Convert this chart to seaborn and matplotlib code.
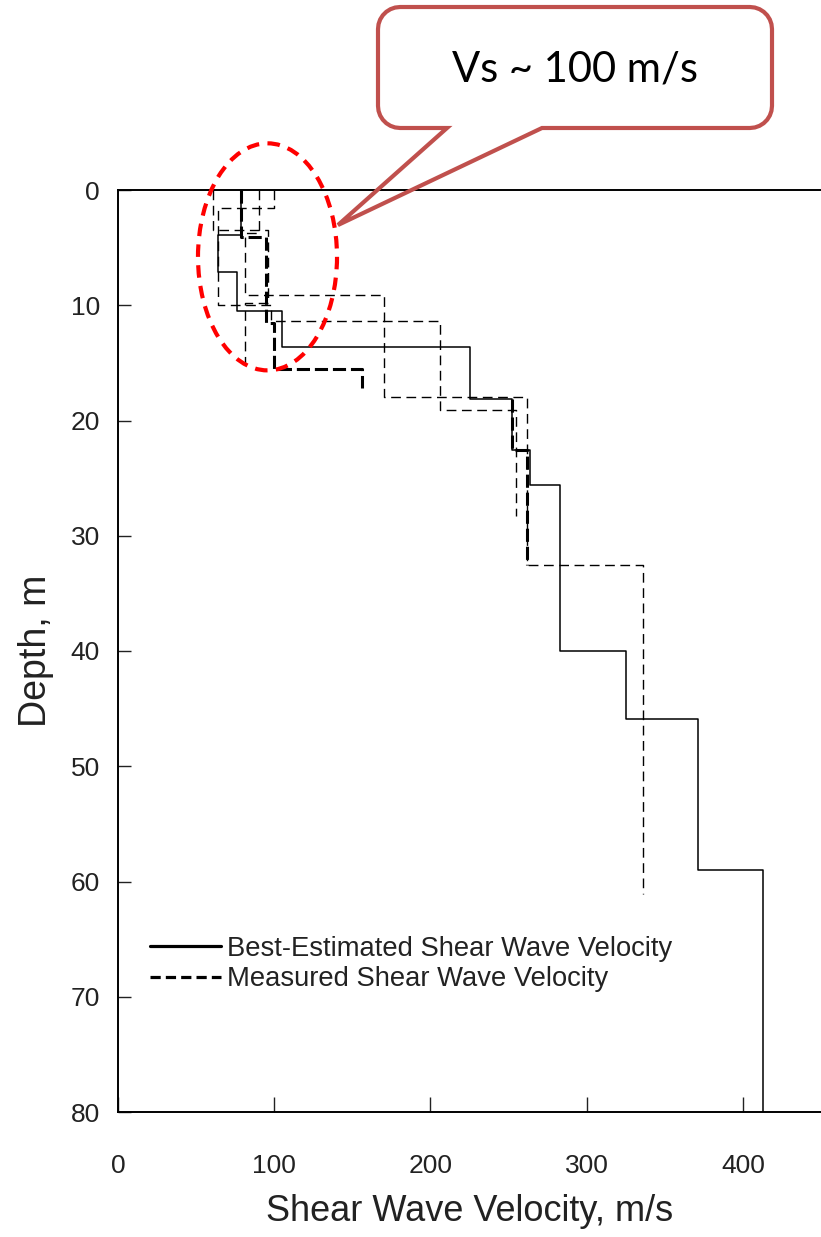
import numpy as np
import pandas as pd
import matplotlib
matplotlib.use("Agg")
import matplotlib.pyplot as plt
import seaborn as sns
from matplotlib.lines import Line2D
from matplotlib.patches import Ellipse, PathPatch
from matplotlib.path import Path

# ---- data: layer boundaries (m) and layer shear-wave velocities (m/s) ----
best_depth = [0, 3.9, 7.1, 10.5, 13.6, 18.1, 22.6, 25.6, 40.0, 45.9, 59.0, 80.0]
best_vs = [79, 64, 76, 105, 225, 252, 264, 283, 325, 371, 413]

m1_depth = [0, 3.75, 9.1, 18.0, 32.5, 61.1]
m1_vs = [90.5, 81, 170.5, 262, 336]
m2_depth = [0, 1.6, 10.0, 11.4, 19.1, 28.3]
m2_vs = [100, 64, 98, 206, 255]
m3_depth = [0, 4.05, 11.5, 15.55, 17.2]
m3_vs = [79, 95, 100, 156]
m4_depth = [0, 3.5, 9.8, 15.1]
m4_vs = [60.6, 96, 81]
m5_depth = [18.1, 22.6, 32.5]
m5_vs = [252, 262]

x_ticks = [0, 100, 200, 300, 400]
y_ticks = [0, 10, 20, 30, 40, 50, 60, 70, 80]
legend_labels = ["Best-Estimated Shear Wave Velocity", "Measured Shear Wave Velocity"]
callout_text = "Vs ~ 100 m/s"


def step_profile(depths, vs, name):
    """Turn layer boundaries + velocities into a stair-step polyline."""
    xs, ys = [], []
    for i, v in enumerate(vs):
        xs += [v, v]
        ys += [depths[i], depths[i + 1]]
    return pd.DataFrame({"velocity": xs, "depth": ys, "profile": name})


W, H = 821, 1237
sns.set_style("ticks")
plt.rcParams["font.family"] = ["Liberation Sans", "DejaVu Sans"]
TXT = "#222222"

fig = plt.figure(figsize=(W / 100, H / 100), dpi=100)
ax = fig.add_axes([118 / W, 1 - 1112 / H, 1 - 118 / W, (1112 - 190) / H])

thin_dash = (0, (7, 4))
thick_dash = (0, (4.3, 1.6))

measured = [
    (m1_depth, m1_vs, 1.0, thin_dash),
    (m2_depth, m2_vs, 1.0, thin_dash),
    (m3_depth, m3_vs, 2.2, thick_dash),
    (m4_depth, m4_vs, 1.0, thin_dash),
    (m5_depth, m5_vs, 2.2, thick_dash),
]
for i, (d, v, lw, ls) in enumerate(measured):
    df = step_profile(d, v, f"m{i + 1}")
    sns.lineplot(data=df, x="velocity", y="depth", sort=False, estimator=None,
                 color="black", lw=lw, linestyle=ls, ax=ax, legend=False)

best = step_profile(best_depth, best_vs, "best")
sns.lineplot(data=best, x="velocity", y="depth", sort=False, estimator=None,
             color="black", lw=1.1, ax=ax, legend=False)

ax.set_xlim(0, 450)
ax.set_ylim(80, 0)
ax.set_xticks(x_ticks)
ax.set_yticks(y_ticks)
ax.tick_params(axis="x", direction="in", length=11, width=1.0, pad=30,
               labelsize=19, colors=TXT)
ax.tick_params(axis="y", direction="in", length=9, width=1.0, pad=13,
               labelsize=19, colors=TXT)
for s in ["left", "bottom", "top"]:
    ax.spines[s].set_linewidth(1.4)
    ax.spines[s].set_color("black")
ax.spines["right"].set_visible(False)
ax.set_xlabel("Shear Wave Velocity, m/s", fontsize=26, color=TXT, labelpad=12)
ax.set_ylabel("Depth, m", fontsize=27, color=TXT, labelpad=12)

handles = [Line2D([], [], color="black", lw=2.3),
           Line2D([], [], color="black", lw=2.3, linestyle=(0, (3.2, 1.6)))]
ax.legend(handles, legend_labels, loc="center left",
          bbox_to_anchor=(150 / W, 1 - 964 / H), bbox_transform=fig.transFigure,
          frameon=False, fontsize=19.7, handlelength=2.6, handletextpad=0.22,
          labelspacing=0.18, borderpad=0, borderaxespad=0, labelcolor=TXT)

# red dashed ellipse around the shallow layers
ax.add_patch(Ellipse((95.7, 5.8), 89, 19.7, fill=False, edgecolor="#ff0000",
                     lw=3.0, linestyle=(0, (3, 2)), zorder=6, clip_on=False))

# speech-bubble callout (pixel geometry -> figure fraction)
def fpt(x, y):
    return (x / W, 1 - y / H)

x0, y0, x1, y1, r = 378, 7, 772, 128, 22
tail_a, tail_b, tip = 447, 542, (338, 225)

def arc(cx, cy, a0, a1, n=8):
    t = np.linspace(np.radians(a0), np.radians(a1), n)
    return [(cx + r * np.cos(a), cy + r * np.sin(a)) for a in t]

pts = [(x0 + r, y0), (x1 - r, y0)]
pts += arc(x1 - r, y0 + r, -90, 0)
pts += [(x1, y1 - r)]
pts += arc(x1 - r, y1 - r, 0, 90)
pts += [(tail_b, y1), tip, (tail_a, y1), (x0 + r, y1)]
pts += arc(x0 + r, y1 - r, 90, 180)
pts += [(x0, y0 + r)]
pts += arc(x0 + r, y0 + r, 180, 270)
verts = [fpt(*p) for p in pts] + [fpt(*pts[0])]
codes = [Path.MOVETO] + [Path.LINETO] * (len(verts) - 2) + [Path.CLOSEPOLY]
bubble = PathPatch(Path(verts, codes), transform=fig.transFigure, fill=False,
                   edgecolor="#c0504d", lw=3.0, joinstyle="miter", zorder=10)
fig.patches.append(bubble)
fig.text(575 / W, 1 - 70 / H, callout_text, ha="center", va="center",
         fontsize=30, family=["Lato", "DejaVu Sans"], color="black")

fig.savefig("out.png", dpi=100)
